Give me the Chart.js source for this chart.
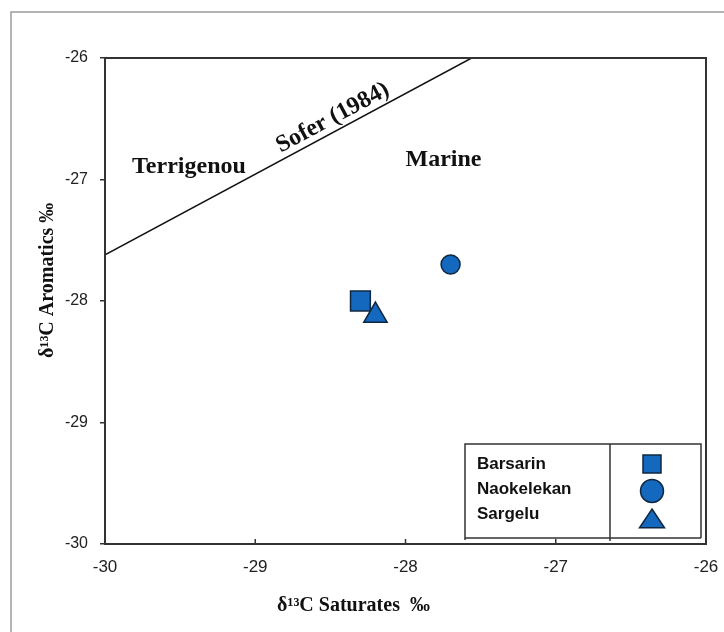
<!DOCTYPE html>
<html>
<head>
<meta charset="utf-8">
<script src="https://cdn.jsdelivr.net/npm/chart.js@4.4.0/dist/chart.umd.min.js"></script>
<style>
  body { margin: 0; background: #fff; }
  #wrap { position: relative; width: 724px; height: 632px; }
</style>
</head>
<body>
<div id="wrap"><canvas id="myChart" width="724" height="632"></canvas></div>
<script>
// samples: d13C saturates (x) vs d13C aromatics (y)
var formations = ['Barsarin', 'Naokelekan', 'Sargelu'];
var satValues = [-28.3, -27.7, -28.2];
var aroValues = [-28.0, -27.7, -28.12];
var markerStyles = ['rect', 'circle', 'triangle'];

// Sofer (1984) dividing line
var soferX = [-30, -27.56];
var soferY = [-27.62, -26];

var xTicks = [-30, -29, -28, -27, -26];
var yTicks = [-30, -29, -28, -27, -26];

var blue = '#1468bd';
var edge = '#0f2740';
var serif = '"Liberation Serif", "Times New Roman", serif';
var sans = '"Liberation Sans", Arial, sans-serif';

var datasets = [{
    type: 'line',
    label: 'Sofer (1984)',
    data: soferX.map(function (x, i) { return { x: x, y: soferY[i] }; }),
    borderColor: '#111',
    borderWidth: 1.5,
    pointRadius: 0,
    fill: false,
    order: 2
}];
var radii = { rect: 14, circle: 9.5, triangle: 13.5 };
formations.forEach(function (name, i) {
    datasets.push({
        type: 'scatter',
        label: name,
        data: [{ x: satValues[i], y: aroValues[i] }],
        pointStyle: markerStyles[i],
        pointRadius: radii[markerStyles[i]],
        pointHoverRadius: radii[markerStyles[i]],
        backgroundColor: blue,
        borderColor: edge,
        borderWidth: 1.5,
        order: 1
    });
});

function drawShape(ctx, style, x, y, r) {
    ctx.beginPath();
    if (style === 'rect') {
        ctx.rect(x - r, y - r, 2 * r, 2 * r);
    } else if (style === 'circle') {
        ctx.arc(x, y, r, 0, Math.PI * 2);
    } else {
        ctx.moveTo(x, y - r * 0.8);
        ctx.lineTo(x + r, y + r * 0.7);
        ctx.lineTo(x - r, y + r * 0.7);
        ctx.closePath();
    }
    ctx.fillStyle = blue;
    ctx.fill();
    ctx.strokeStyle = edge;
    ctx.lineWidth = 1.5;
    ctx.stroke();
}

var decor = {
    id: 'decor',
    beforeDraw: function (chart) {
        var ctx = chart.ctx;
        ctx.save();
        ctx.strokeStyle = '#9c9c9c';
        ctx.lineWidth = 1.5;
        ctx.beginPath();
        ctx.moveTo(11, 632);
        ctx.lineTo(11, 12);
        ctx.lineTo(724, 12);
        ctx.stroke();
        ctx.restore();
    },
    afterDraw: function (chart) {
        var ctx = chart.ctx;
        var a = chart.chartArea;
        var xs = chart.scales.x, ys = chart.scales.y;
        ctx.save();

        // plot frame
        ctx.strokeStyle = '#333';
        ctx.lineWidth = 2;
        ctx.strokeRect(a.left, a.top, a.right - a.left, a.bottom - a.top);

        // inward ticks on x axis
        ctx.lineWidth = 1.5;
        xTicks.forEach(function (v) {
            var px = xs.getPixelForValue(v);
            ctx.beginPath();
            ctx.moveTo(px, a.bottom);
            ctx.lineTo(px, a.bottom - 5);
            ctx.stroke();
        });

        // region labels
        ctx.fillStyle = '#111';
        ctx.font = 'bold 24px ' + serif;
        ctx.textBaseline = 'alphabetic';
        ctx.textAlign = 'left';
        ctx.fillText('Terrigenou', xs.getPixelForValue(-29.82), ys.getPixelForValue(-26.95));
        ctx.fillText('Marine', xs.getPixelForValue(-28.0), ys.getPixelForValue(-26.89));

        // rotated label on the Sofer line
        var p0x = xs.getPixelForValue(soferX[0]), p0y = ys.getPixelForValue(soferY[0]);
        var p1x = xs.getPixelForValue(soferX[1]), p1y = ys.getPixelForValue(soferY[1]);
        var ang = Math.atan2(p1y - p0y, p1x - p0x);
        ctx.save();
        ctx.translate(xs.getPixelForValue(-28.83), ys.getPixelForValue(-26.78));
        ctx.rotate(ang);
        ctx.fillText('Sofer (1984)', 0, 0);
        ctx.restore();

        // axis titles
        ctx.font = 'bold 20px ' + serif;
        ctx.fillText('\u03b4\u00b9\u00b3C Saturates  \u2030', 277, 611);
        ctx.save();
        ctx.translate(53, 358);
        ctx.rotate(-Math.PI / 2);
        ctx.fillText('\u03b4\u00b9\u00b3C Aromatics \u2030', 0, 0);
        ctx.restore();

        // legend box
        var L = 465, R = 701, T = 444, B = 538, D = 610;
        ctx.strokeStyle = '#333';
        ctx.lineWidth = 1.5;
        ctx.beginPath();
        ctx.moveTo(L, B + 2); ctx.lineTo(L, T); ctx.lineTo(R, T); ctx.lineTo(R, B);
        ctx.moveTo(L, B); ctx.lineTo(R, B);
        ctx.moveTo(D, T); ctx.lineTo(D, B + 3);
        ctx.stroke();

        ctx.font = 'bold 17px ' + sans;
        ctx.textBaseline = 'middle';
        var rowY = [464, 489, 514];
        var symY = [464, 491, 519];
        var symR = { rect: 9, circle: 11.5, triangle: 12.5 };
        formations.forEach(function (name, i) {
            ctx.fillStyle = '#111';
            ctx.fillText(name, 477, rowY[i]);
            drawShape(ctx, markerStyles[i], 652, symY[i], symR[markerStyles[i]]);
        });
        ctx.restore();
    }
};

new Chart(document.getElementById('myChart').getContext('2d'), {
    type: 'scatter',
    data: { datasets: datasets },
    options: {
        responsive: false,
        devicePixelRatio: 1,
        animation: false,
        layout: { padding: { left: 0, top: 58, right: 18, bottom: 0 } },
        plugins: { legend: { display: false }, tooltip: { enabled: false } },
        scales: {
            x: {
                type: 'linear',
                min: -30, max: -26,
                afterBuildTicks: function (s) { s.ticks = xTicks.map(function (v) { return { value: v }; }); },
                afterFit: function (s) { s.height = 88; s.paddingLeft = 0; s.paddingRight = 0; },
                ticks: { color: '#222', font: { family: sans, size: 17 }, padding: 13 },
                grid: { display: false, drawTicks: false },
                border: { display: true, color: '#333', width: 2 }
            },
            y: {
                type: 'linear',
                min: -30, max: -26,
                afterBuildTicks: function (s) { s.ticks = yTicks.map(function (v) { return { value: v }; }); },
                afterFit: function (s) { s.width = 105; s.paddingTop = 0; s.paddingBottom = 0; },
                ticks: { color: '#222', font: { family: sans, size: 16 }, padding: 12 },
                grid: { display: true, drawOnChartArea: false, drawTicks: true, tickLength: 5, color: '#333', lineWidth: 1.5 },
                border: { display: true, color: '#333', width: 2 }
            }
        }
    },
    plugins: [decor]
});
</script>
</body>
</html>
